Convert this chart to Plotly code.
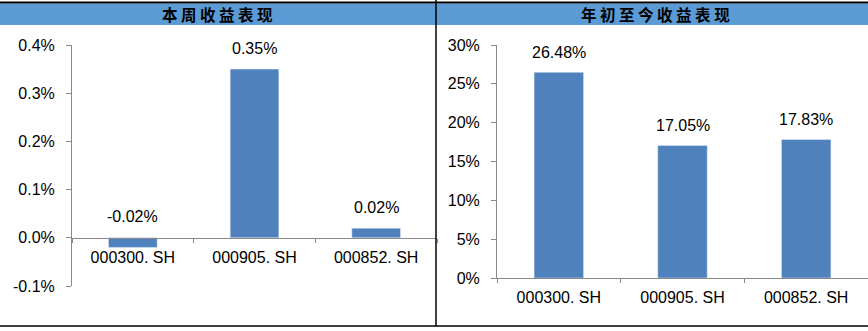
import plotly.graph_objects as go

# Index codes and returns (as fractions)
codes = ["000300. SH", "000905. SH", "000852. SH"]
weekly_returns = [-0.0002, 0.0035, 0.0002]
ytd_returns = [0.2648, 0.1705, 0.1783]

# Axis tick values and their printed labels
weekly_ticks = [-0.001, 0.0, 0.001, 0.002, 0.003, 0.004]
weekly_tick_text = ["-0.1%", "0.0%", "0.1%", "0.2%", "0.3%", "0.4%"]
ytd_ticks = [0.0, 0.05, 0.10, 0.15, 0.20, 0.25, 0.30]
ytd_tick_text = ["0%", "5%", "10%", "15%", "20%", "25%", "30%"]

weekly_title = "本 周 收 益 表 现"
ytd_title = "年 初 至 今 收 益 表 现"

W, H = 868, 331
BAR = "#4F81BD"
HEAD = "#5B9BD5"
AXIS = "#888888"
FONT = "Liberation Sans, Arial, sans-serif"


def px_x(x):
    return min(max(x / W, 0), 1)


def px_y(y):
    return min(max(1 - y / H, 0), 1)


left_range = [-0.001, 0.004]
right_range = [0, 0.30]
left_dom_y = [px_y(286), px_y(45)]
right_dom_y = [px_y(278), px_y(45)]
zero_pos = left_dom_y[0] + (0 - left_range[0]) / (left_range[1] - left_range[0]) * (left_dom_y[1] - left_dom_y[0])

fig = go.Figure()
fig.add_trace(go.Bar(x=codes, y=weekly_returns, marker_color=BAR, xaxis="x", yaxis="y",
                     hoverinfo="skip"))
fig.add_trace(go.Bar(x=codes, y=ytd_returns, marker_color=BAR, xaxis="x2", yaxis="y2",
                     hoverinfo="skip"))

annotations = []
for c, v in zip(codes, weekly_returns):
    annotations.append(dict(x=c, y=max(v, 0), xref="x", yref="y", text=f"{v*100:.2f}%",
                            showarrow=False, yshift=21, font=dict(size=16, color="#000", family=FONT)))
for c, v in zip(codes, ytd_returns):
    annotations.append(dict(x=c, y=v, xref="x2", yref="y2", text=f"{v*100:.2f}%",
                            showarrow=False, yshift=20, font=dict(size=16, color="#000", family=FONT)))

# Header titles
annotations.append(dict(x=px_x(217), y=px_y(14), xref="paper", yref="paper", text=f"<b>{weekly_title}</b>",
                        showarrow=False, font=dict(size=15.5, color="#000", family="Noto Sans CJK SC"),
                        xanchor="center", yanchor="middle"))
annotations.append(dict(x=px_x(655), y=px_y(14), xref="paper", yref="paper", text=f"<b>{ytd_title}</b>",
                        showarrow=False, font=dict(size=15.5, color="#000", family="Noto Sans CJK SC"),
                        xanchor="center", yanchor="middle"))

shapes = [
    # header band
    dict(type="rect", xref="paper", yref="paper", x0=0, x1=1, y0=px_y(25), y1=px_y(3.5),
         fillcolor=HEAD, line=dict(width=0), layer="below"),
    # top rule
    dict(type="line", xref="paper", yref="paper", x0=0, x1=1, y0=px_y(2.5), y1=px_y(2.5),
         line=dict(color="#000", width=2)),
    # panel divider
    dict(type="line", xref="paper", yref="paper", x0=px_x(436), x1=px_x(436), y0=px_y(0), y1=px_y(326),
         line=dict(color="#000", width=1.5)),
    # bottom rule
    dict(type="line", xref="paper", yref="paper", x0=0, x1=1, y0=px_y(326), y1=px_y(326),
         line=dict(color="#000", width=1.5)),
]

axis_common = dict(showgrid=False, zeroline=False, showline=True, linecolor=AXIS, linewidth=1,
                   ticks="outside", tickcolor=AXIS, automargin=False,
                   tickfont=dict(size=16, color="#000", family=FONT), fixedrange=True)

fig.update_layout(
    width=W, height=H, margin=dict(l=0, r=0, t=0, b=0, pad=0),
    paper_bgcolor="white", plot_bgcolor="white", showlegend=False,
    bargap=0.6,
    xaxis=dict(domain=[px_x(72), px_x(437)], anchor="free", position=zero_pos,
               tickson="boundaries", ticklen=4, ticklabelstandoff=5, **axis_common),
    yaxis=dict(domain=left_dom_y, range=left_range, tickmode="array",
               tickvals=weekly_ticks, ticktext=weekly_tick_text,
               anchor="x", ticklen=5, ticklabelstandoff=8, **axis_common),
    xaxis2=dict(domain=[px_x(497), px_x(868)], anchor="y2",
                tickson="boundaries", ticklen=4, ticklabelstandoff=5, **axis_common),
    yaxis2=dict(domain=right_dom_y, range=right_range, tickmode="array",
                tickvals=ytd_ticks, ticktext=ytd_tick_text,
                anchor="x2", ticklen=5, ticklabelstandoff=8, **axis_common),
    annotations=annotations,
    shapes=shapes,
)

page_css = ("document.documentElement.style.margin='0';document.body.style.margin='0';"
            "document.body.style.overflow='hidden';")
fig.write_html("out.html", config={"displayModeBar": False}, post_script=page_css)
